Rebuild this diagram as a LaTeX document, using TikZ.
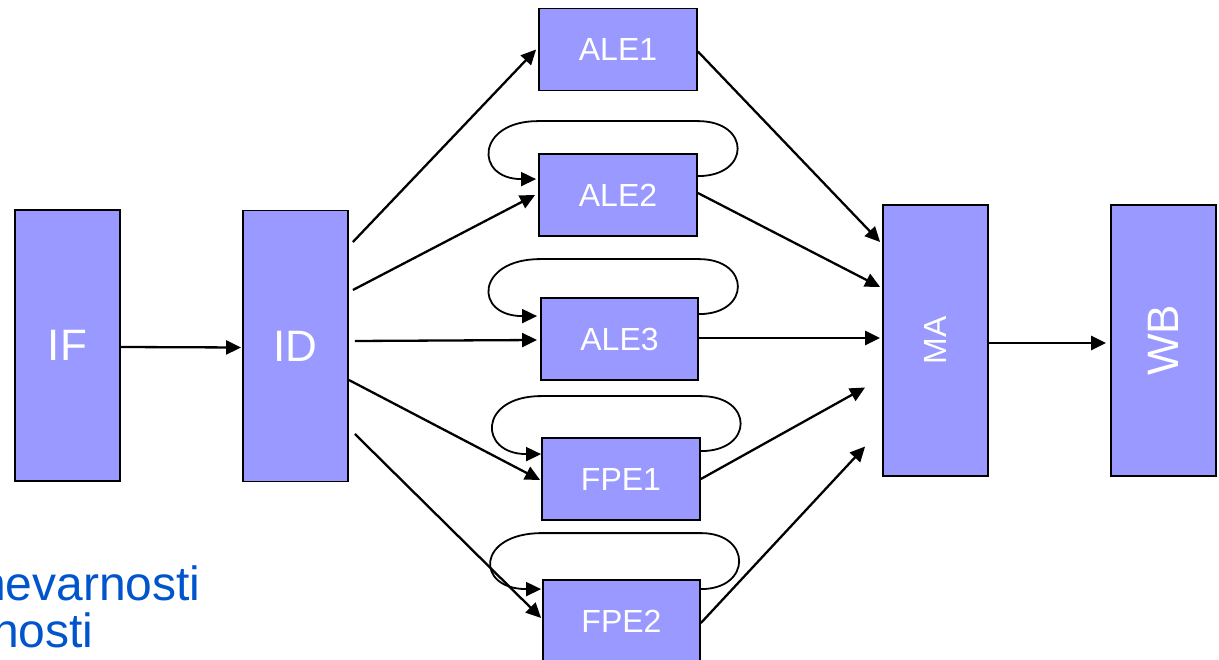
\documentclass[tikz,border=0pt]{standalone}
\usepackage{fontspec}
\setmainfont{Liberation Sans}
\usetikzlibrary{arrows.meta}
\definecolor{boxfill}{RGB}{153,153,255}
\definecolor{noteblue}{RGB}{0,85,204}
\begin{document}
\begin{tikzpicture}[x=1pt,y=-1pt,
  stage/.style={draw=black, line width=1.8pt, fill=boxfill, text=white, inner sep=0pt, anchor=center},
  tall/.style={stage, minimum width=105pt, minimum height=271pt},
  bigtxt/.style={font=\fontsize{44}{48}\selectfont},
  unit/.style={stage, minimum width=158pt, minimum height=82pt, font=\fontsize{32}{36}\selectfont},
  arr/.style={line width=2.3pt, -{Triangle[length=15pt,width=14pt]}},
  loopline/.style={line width=1.8pt, -{Triangle[length=15pt,width=14pt]}},
  note/.style={anchor=base west, inner sep=0pt, text=noteblue, font=\fontsize{48}{47}\selectfont},
]
\useasboundingbox (0,0) rectangle (1219,660);
\fill[white] (0,0) rectangle (1219,660);
\clip (0,0) rectangle (1219,660);

% stages
\node[tall, bigtxt] (IF) at (67.5,345.5) {IF};
\node[tall, bigtxt] (ID) at (295.5,346) {ID};
\node[unit] (ALE1) at (618,49.5) {ALE1};
\node[unit] (ALE2) at (618,195) {ALE2};
\node[unit, minimum width=157pt] (ALE3) at (619.5,339) {ALE3};
\node[unit] (FPE1) at (621,479) {FPE1};
\node[unit, minimum width=157pt] (FPE2) at (621.5,621) {FPE2};
\node[tall, font=\fontsize{32}{34}\selectfont] (MA) at (935.5,340.5) {\rotatebox{90}{MA}};
\node[tall, bigtxt] (WB) at (1163.5,340.5) {\rotatebox{90}{WB}};

% notes (cut off at the left edge, as in the reference)
\node[note] (n1) at (-21,600) {nevarnosti};
\node[note] (n2) at (-8,647) {nosti};

% IF -> ID
\draw[arr] ([yshift=-1.5pt]IF.east) -- ([shift={(-1,1.5)}]ID.west);

% ID -> units
\draw[arr] ([shift={(4,-104)}]ID.east) -- ([xshift=-2pt]ALE1.west);
\draw[arr] ([shift={(4,-56)}]ID.east) -- ([xshift=-3pt]ALE2.west);
\draw[arr] ([shift={(6,-5)}]ID.east) -- ([shift={(-3,1)}]ALE3.west);
\draw[arr] ([shift={(0,34)}]ID.east) -- ([shift={(-1,1)}]FPE1.west);
\draw[arr] ([shift={(6,88)}]ID.east) -- ([shift={(-1,-3)}]FPE2.west);

% units -> MA
\draw[arr] ([yshift=-2pt]ALE1.east) -- ([shift={(-2,-98.5)}]MA.west);
\draw[arr] ([yshift=2pt]ALE2.east) -- ([shift={(-2,-53.5)}]MA.west);
\draw[arr] ([yshift=1pt]ALE3.east) -- ([shift={(-2,-2.5)}]MA.west);
\draw[arr] (FPE1.east) -- ([shift={(-17,47)}]MA.west);
\draw[arr] ([yshift=-2pt]FPE2.east) -- ([shift={(-17,106)}]MA.west);

% MA -> WB
\draw[arr] ([yshift=-2.5pt]MA.east) -- ([shift={(-4,2.5)}]WB.west);

% feedback loops
\draw[loopline] ([yshift=-23pt]ALE2.north east) .. controls +(53,0) and +(53,0) .. ([yshift=32pt]ALE2.north east)
  -- ([yshift=32pt]ALE2.north west) .. controls +(-62,0) and +(-62,0) .. ([shift={(-2,26)}]ALE2.north west);
\draw[loopline] ([yshift=-17pt]ALE3.north east) .. controls +(52,0) and +(52,0) .. ([yshift=38pt]ALE3.north east)
  -- ([yshift=38pt]ALE3.north west) .. controls +(-64,0) and +(-64,0) .. ([shift={(-3,19)}]ALE3.north west);
\draw[loopline] ([yshift=-14pt]FPE1.north east) .. controls +(53,0) and +(53,0) .. ([yshift=41pt]FPE1.north east)
  -- ([yshift=41pt]FPE1.north west) .. controls +(-63,0) and +(-63,0) .. ([shift={(0,17)}]FPE1.north west);
\draw[loopline] ([yshift=-10pt]FPE2.north east) .. controls +(51,0) and +(51,0) .. ([yshift=46pt]FPE2.north east)
  -- ([yshift=46pt]FPE2.north west) .. controls +(-66,0) and +(-66,0) .. ([shift={(-1,10)}]FPE2.north west);
\end{tikzpicture}
\end{document}
